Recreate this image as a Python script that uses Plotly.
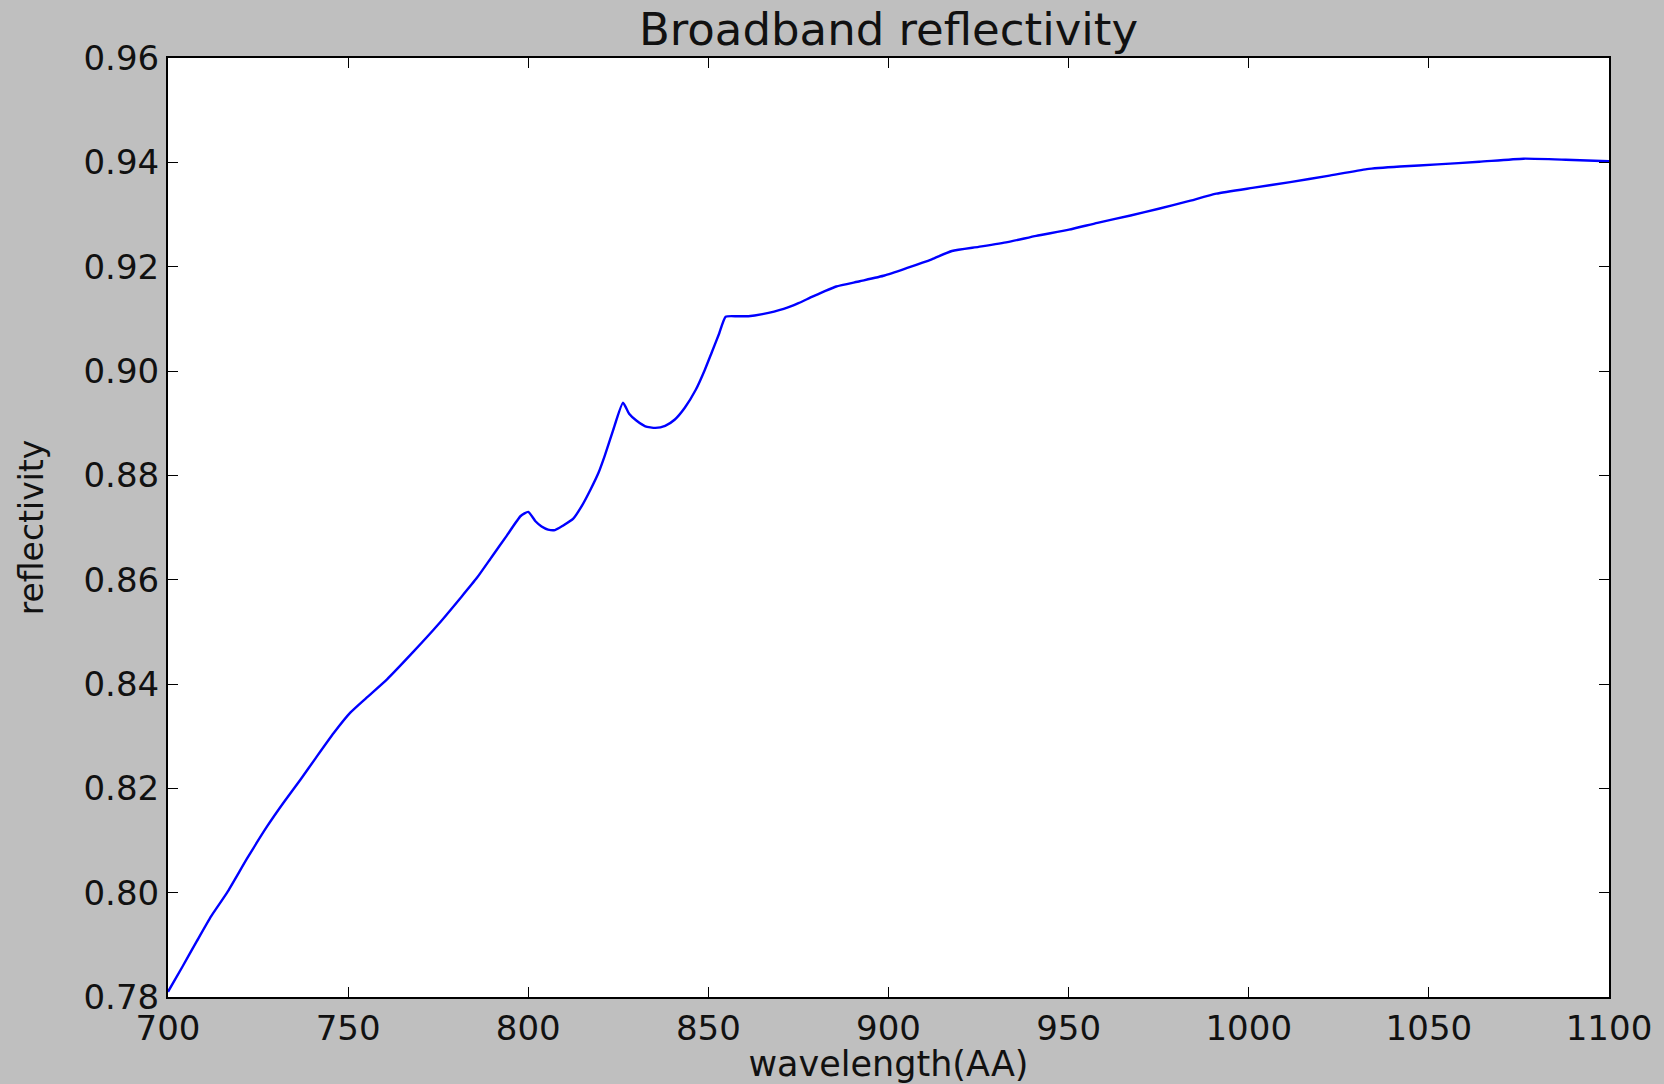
import plotly.graph_objects as go

# Broadband reflectivity versus wavelength
wavelength = [700, 704, 708, 712, 716.4, 722, 727.5, 732, 736.8, 741, 746, 750.6,
              755, 760.8, 768, 775, 781.2, 785.7, 790, 794, 797.9, 800, 802, 803.7,
              805.5, 807.4, 809.5, 812.5, 815, 817.3, 819.5, 821.2, 823.5, 826.3,
              828, 830, 832.5, 835.3, 838, 840.7, 843.5, 846.5, 849, 850.9, 853,
              854.8, 858, 861.1, 865, 870.9, 875, 878.7, 882, 885.5, 892, 898.9,
              905, 912, 917.6, 925, 933, 941, 950.1, 958, 967.2, 975, 983, 991,
              1001, 1011.5, 1022, 1032.8, 1042, 1052.4, 1064, 1076.3, 1088, 1100]
reflectivity = [0.7810, 0.7858, 0.7907, 0.7955, 0.8000, 0.8066, 0.8127, 0.8172,
                0.8217, 0.8258, 0.8306, 0.8345, 0.8373, 0.8409, 0.8461, 0.8514,
                0.8565, 0.8603, 0.8645, 0.8684, 0.8722, 0.8730, 0.8712, 0.8702,
                0.8696, 0.8695, 0.8703, 0.8717, 0.8743, 0.8773, 0.8805, 0.8837,
                0.8885, 0.8939, 0.8918, 0.8905, 0.8894, 0.8891, 0.8895, 0.8907,
                0.8930, 0.8964, 0.9002, 0.9035, 0.9072, 0.9104, 0.9105, 0.9105,
                0.9109, 0.9119, 0.9130, 0.9142, 0.9152, 0.9162, 0.9172, 0.9183,
                0.9197, 0.9214, 0.9230, 0.9238, 0.9247, 0.9259, 0.9271, 0.9284,
                0.9298, 0.9311, 0.9325, 0.9340, 0.9351, 0.9362, 0.9374, 0.9387,
                0.9392, 0.9396, 0.9401, 0.9407, 0.9405, 0.9402]

x_ticks = [700, 750, 800, 850, 900, 950, 1000, 1050, 1100]
y_ticks = [0.78, 0.80, 0.82, 0.84, 0.86, 0.88, 0.90, 0.92, 0.94, 0.96]

FONT = "DejaVu Sans"
INK = "#111111"

fig = go.Figure(
    go.Scatter(
        x=wavelength,
        y=reflectivity,
        mode="lines",
        line=dict(color="#0000ff", width=2.4, shape="spline", smoothing=0.5),
        showlegend=False,
    )
)

axis_common = dict(
    showgrid=False,
    zeroline=False,
    showline=True,
    linecolor="#000000",
    linewidth=2,
    mirror="ticks",
    ticks="inside",
    ticklen=10,
    tickwidth=1,
    tickcolor="#000000",
    tickfont=dict(family=FONT, size=34, color=INK),
    automargin=False,
)

fig.update_xaxes(
    range=[700, 1100],
    tickvals=x_ticks,
    ticktext=[str(v) for v in x_ticks],
    title=dict(text="wavelength(AA)", font=dict(family=FONT, size=35, color=INK), standoff=10),
    **axis_common,
)
fig.update_yaxes(
    range=[0.78, 0.96],
    tickvals=y_ticks,
    ticktext=[f"{v:.2f}" for v in y_ticks],
    title=dict(text="reflectivity", font=dict(family=FONT, size=33, color=INK), standoff=30),
    **axis_common,
)

fig.update_layout(
    width=1664,
    height=1084,
    paper_bgcolor="#bfbfbf",
    plot_bgcolor="#ffffff",
    margin=dict(l=168, r=55, t=58, b=87),
    title=dict(
        text="Broadband reflectivity",
        font=dict(family=FONT, size=45, color=INK),
        x=(168 + 1609) / 2 / 1664,
        xanchor="center",
        y=1 - 29 / 1084,
        yanchor="middle",
    ),
)

fig.write_html("out.html")
